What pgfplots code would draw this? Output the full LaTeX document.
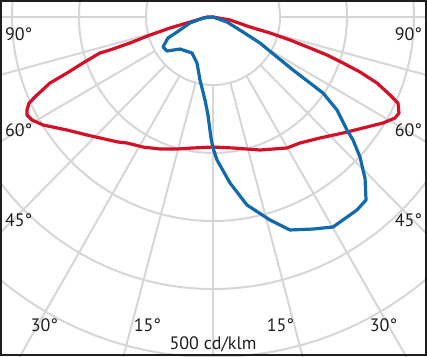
\documentclass[border=0pt]{standalone}
\usepackage{fontspec}
\setmainfont{PT Sans}
\usepackage{pgfplots}
\pgfplotsset{compat=1.18}
\definecolor{gridc}{RGB}{214,214,214}
\definecolor{redc}{RGB}{212,16,40}
\definecolor{bluec}{RGB}{16,106,172}
\definecolor{txt}{RGB}{30,30,30}
\begin{document}
\begin{tikzpicture}
\begin{axis}[
  width=320.25pt, height=267pt, scale only axis,
  xmin=-317.9, xmax=319.4, ymin=-498.5, ymax=25.0,
  hide axis, clip=true,
]
% polar grid (rings of 100 cd/klm, rays every 15 degrees)
\pgfplotsinvokeforeach{100,200,300,400,500}{
  \draw[gridc, line width=1.5pt] (axis cs:0,0) ellipse [x radius=#1, y radius=#1];
}
\pgfplotsinvokeforeach{-90,-75,-60,-45,-30,-15,0,15,30,45,60,75,90}{
  \draw[gridc, line width=1.5pt] (axis cs:{100*sin(#1)},{-100*cos(#1)}) -- (axis cs:{900*sin(#1)},{-900*cos(#1)});
}
% C0-C180 plane (red)
\addplot[redc, line width=2.4pt, line join=round, line cap=round] coordinates {
(0,0) (-9,0) (-34.3,-7.4) (-64.2,-16.2) (-94.0,-26.5) (-123.9,-38.2) (-153.7,-48.5)
(-168.7,-52.9) (-194.0,-67.6) (-217.9,-82.4) (-243.3,-97.1) (-262.7,-114.7)
(-274.6,-126.5) (-277.6,-136.8) (-277.6,-144.1) (-270.1,-151.5) (-253.7,-158.8)
(-217.9,-166.2) (-188.1,-173.5) (-168.7,-177.9) (-141.8,-183.8) (-128.4,-185.3)
(-104.5,-191.2) (-79.1,-194.1) (-53.7,-194.1) (-29.9,-192.6) (0,-191.2)
(29.9,-192.6) (70.1,-195.6) (110.4,-192.6) (129.8,-185.3) (159.7,-177.9)
(194.0,-170.6) (223.9,-163.2) (253.7,-155.9) (271.6,-148.5) (277.6,-141.2)
(276.1,-126.5) (264.2,-114.7) (244.8,-97.1) (219.4,-80.9) (194.0,-67.6)
(170.1,-55.9) (144.8,-45.6) (114.9,-33.8) (85.1,-23.5) (55.2,-14.7) (25.4,-4.4) (0,0)
};
% C90-C270 plane (blue)
\addplot[bluec, line width=2.4pt, line join=round, line cap=round] coordinates {
(0,0) (20.9,-7.4) (44.8,-22.1) (70.1,-38.2) (95.5,-58.8) (119.4,-77.9)
(144.8,-97.1) (164.2,-111.8) (185.1,-136.8) (200.0,-166.2) (209.0,-180.9)
(219.4,-205.9) (223.9,-225.0) (226.9,-236.8) (228.4,-269.1) (214.9,-283.8)
(179.1,-308.8) (149.3,-311.8) (114.9,-313.2) (85.1,-298.5) (50.7,-276.5)
(25.4,-244.1) (6.0,-210.3) (0,-192.6) (-3.0,-177.9) (-7.5,-144.1) (-11.9,-122.1)
(-19.4,-92.6) (-23.9,-67.6) (-31.3,-52.9) (-49.3,-47.1) (-68.7,-50.0)
(-74.6,-44.1) (-67.2,-30.9) (-53.7,-22.1) (-34.3,-8.8) (-14.9,-1.5) (0,0)
};
% angle labels
\begin{scope}[every node/.style={anchor=base, text=txt, font=\fontsize{13.5}{16}\selectfont, inner sep=0pt}]
\node at (axis cs:-290,-34.9) {90°};
\node at (axis cs:291.8,-34.9) {90°};
\node at (axis cs:-290,-175.7) {60°};
\node at (axis cs:291.8,-175.7) {60°};
\node at (axis cs:-290,-308.8) {45°};
\node at (axis cs:291.8,-308.8) {45°};
\node at (axis cs:-251.5,-462.2) {30°};
\node at (axis cs:254.5,-462.2) {30°};
\node at (axis cs:-97.8,-462.2) {15°};
\node at (axis cs:100.7,-462.2) {15°};
\node at (axis cs:0,-488.7) {500 cd/klm};
\end{scope}
\end{axis}
\draw[txt, line width=1.5pt] ([shift={(0.75pt,0.75pt)}]current axis.south west) rectangle ([shift={(-0.75pt,-0.75pt)}]current axis.north east);
\end{tikzpicture}
\end{document}
